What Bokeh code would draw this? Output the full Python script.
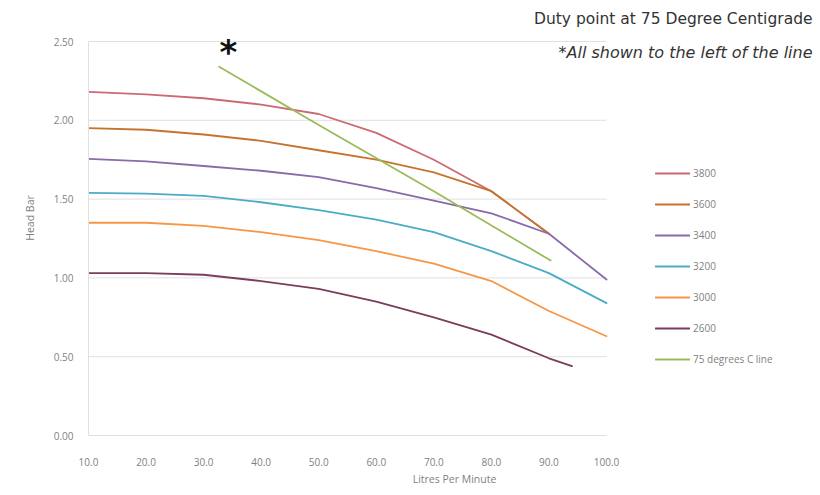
from bokeh.plotting import figure
from bokeh.models import (ColumnDataSource, Legend, LegendItem, Label, FixedTicker,
                          PrintfTickFormatter, Range1d)
from bokeh.embed import file_html
from bokeh.resources import INLINE

# ---- data ----
flow = [10, 20, 30, 40, 50, 60, 70, 80, 90, 100]
head_3800 = [2.18, 2.165, 2.14, 2.10, 2.04, 1.92, 1.75, 1.55, 1.28]
head_3600 = [1.95, 1.94, 1.91, 1.87, 1.81, 1.75, 1.67, 1.55, 1.28]
head_3400 = [1.755, 1.74, 1.71, 1.68, 1.64, 1.57, 1.49, 1.41, 1.28, 0.99]
head_3200 = [1.54, 1.535, 1.52, 1.48, 1.43, 1.37, 1.29, 1.17, 1.03, 0.84]
head_3000 = [1.35, 1.35, 1.33, 1.29, 1.24, 1.17, 1.09, 0.98, 0.79, 0.63]
flow_2600 = [10, 20, 30, 40, 50, 60, 70, 80, 90, 94]
head_2600 = [1.03, 1.03, 1.02, 0.98, 0.93, 0.85, 0.75, 0.64, 0.49, 0.44]
flow_75c = [32.7, 50, 70, 90.3]
head_75c = [2.34, 1.97, 1.55, 1.11]

series_names = ["3800", "3600", "3400", "3200", "3000", "2600", "75 degrees C line"]
series_colors = ["#cc6a74", "#c6732f", "#8a6aa8", "#4bacc6", "#f79646", "#7b3d5c", "#9bbb59"]

x_ticks = [10, 20, 30, 40, 50, 60, 70, 80, 90, 100]
y_ticks = [0.0, 0.5, 1.0, 1.5, 2.0, 2.5]

# ---- layout ----
W, H = 820, 495
LEFT, BOTTOM = 88, 60
frame_w = W - LEFT
frame_h = H - BOTTOM
plot_px_x = 518   # pixels from x=10 to x=100
plot_px_y = 394   # pixels from y=0 to y=2.5
x_end = x_ticks[0] + (x_ticks[-1] - x_ticks[0]) * frame_w / plot_px_x
y_end = y_ticks[-1] * frame_h / plot_px_y

p = figure(width=W, height=H, output_backend="svg", toolbar_location=None,
           x_range=Range1d(x_ticks[0], x_end), y_range=Range1d(0, y_end),
           min_border_left=LEFT, min_border_right=0, min_border_top=0,
           min_border_bottom=BOTTOM)
p.outline_line_color = None
p.background_fill_color = "white"
p.border_fill_color = "white"
p.xgrid.grid_line_color = None
p.ygrid.grid_line_color = None

# horizontal gridlines, limited to the data area
grid_src = ColumnDataSource(dict(x0=[x_ticks[0]] * len(y_ticks), x1=[x_ticks[-1]] * len(y_ticks),
                                 y=y_ticks))
p.segment(x0="x0", y0="y", x1="x1", y1="y", source=grid_src,
          line_color="#e0e0e0", line_width=1)

xs_list = [flow[:9], flow[:9], flow, flow, flow, flow_2600, flow_75c]
ys_list = [head_3800, head_3600, head_3400, head_3200, head_3000, head_2600, head_75c]

renderers = []
for xs, ys, c in zip(xs_list, ys_list, series_colors):
    src = ColumnDataSource(dict(x=xs, y=ys))
    r = p.line("x", "y", source=src, line_color=c, line_width=1.8,
               line_join="round", line_cap="round")
    renderers.append(r)

# axes
grey_txt = "#7f7f7f"
p.xaxis.ticker = FixedTicker(ticks=x_ticks)
p.yaxis.ticker = FixedTicker(ticks=y_ticks)
p.xaxis.formatter = PrintfTickFormatter(format="%.1f")
p.yaxis.formatter = PrintfTickFormatter(format="%.2f")
p.xaxis.bounds = (x_ticks[0], x_ticks[-1])
p.yaxis.bounds = (y_ticks[0], y_ticks[-1])
for ax in (p.xaxis, p.yaxis):
    ax.major_tick_line_color = None
    ax.minor_tick_line_color = None
    ax.major_tick_out = 0
    ax.major_tick_in = 0
    ax.minor_tick_out = 0
    ax.minor_tick_in = 0
    ax.axis_line_color = "#e0e0e0"
    ax.major_label_text_color = grey_txt
    ax.major_label_text_font = "Open Sans"
    ax.major_label_text_font_size = "10px"
    ax.axis_label_text_color = grey_txt
    ax.axis_label_text_font = "Open Sans"
    ax.axis_label_text_font_size = "10.5px"
    ax.axis_label_text_font_style = "normal"
p.xaxis.axis_label = "Litres Per Minute"
p.yaxis.axis_label = "Head Bar"
p.xaxis.major_label_standoff = 22
p.xaxis.axis_label_standoff = 3
p.yaxis.major_label_standoff = 15
p.yaxis.axis_label_standoff = 14

# legend (location = bottom-left corner, measured from the frame's bottom-left)
items = [LegendItem(label=n, renderers=[r]) for n, r in zip(series_names, renderers)]
legend = Legend(items=items, location=(567, 66), orientation="vertical",
                glyph_width=35, glyph_height=20, label_height=20, spacing=11,
                label_standoff=3, padding=0, margin=0,
                border_line_color=None, background_fill_alpha=0,
                label_text_font="Open Sans", label_text_font_size="10px",
                label_text_color=grey_txt)
p.add_layout(legend, "center")

# titles / annotations
p.add_layout(Label(x=724, y=417, x_units="screen", y_units="screen",
                   text="Duty point at 75 Degree Centigrade", text_align="right",
                   text_baseline="middle", text_font="DejaVu Sans", text_font_size="15.5px",
                   text_color="#333333"))
p.add_layout(Label(x=724, y=383, x_units="screen", y_units="screen",
                   text="*All shown to the left of the line", text_align="right",
                   text_baseline="middle", text_font="DejaVu Sans", text_font_size="16px",
                   text_font_style="italic", text_color="#333333"))
p.add_layout(Label(x=140, y=384, x_units="screen", y_units="screen",
                   text="*", text_align="center", text_baseline="middle",
                   text_font="DejaVu Sans", text_font_size="34px", text_font_style="bold",
                   text_color="#111111"))

open("out.html", "w").write(file_html(p, INLINE))
